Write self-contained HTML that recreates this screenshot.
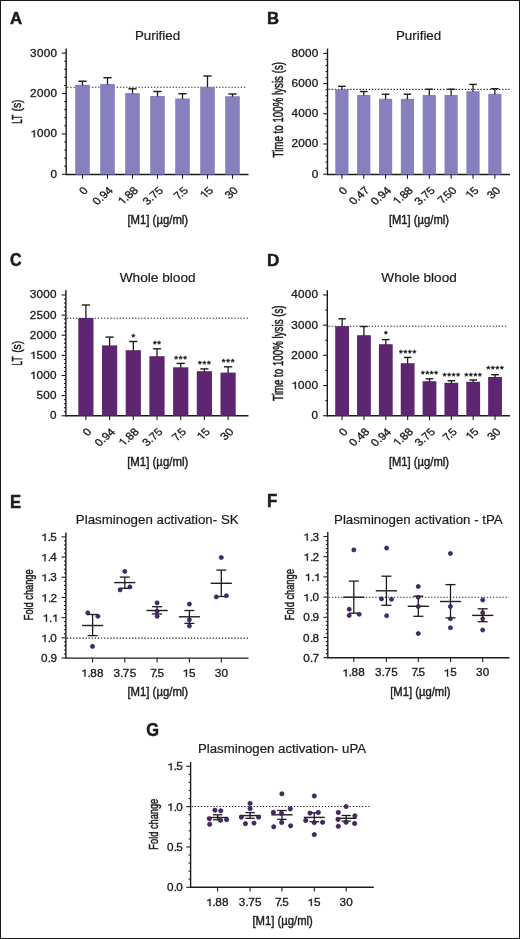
<!DOCTYPE html>
<html><head><meta charset="utf-8"><title>Figure</title>
<style>html,body{margin:0;padding:0;background:#fff;width:520px;height:939px;overflow:hidden}text{font-family:'Liberation Sans', sans-serif}</style>
</head><body>
<svg width="520" height="939" viewBox="0 0 520 939" style="position:absolute;left:0;top:0;will-change:transform;font-family:'Liberation Sans', sans-serif">
<rect x="0" y="0" width="520" height="939" fill="#fff"/>
<text transform="translate(9.88,23.90) scale(0.995,1)" style="font-size:16.96px;font-weight:bold;" fill="#1c1c1c" stroke="#1c1c1c" stroke-width="0.5">A</text>
<text transform="translate(266.91,23.70) scale(0.970,1)" style="font-size:17.25px;font-weight:bold;" fill="#1c1c1c" stroke="#1c1c1c" stroke-width="0.5">B</text>
<text transform="translate(10.06,265.72) scale(0.911,1)" style="font-size:17.61px;font-weight:bold;" fill="#1c1c1c" stroke="#1c1c1c" stroke-width="0.5">C</text>
<text transform="translate(266.89,265.60) scale(1.007,1)" style="font-size:16.96px;font-weight:bold;" fill="#1c1c1c" stroke="#1c1c1c" stroke-width="0.5">D</text>
<text transform="translate(10.02,507.60) scale(0.933,1)" style="font-size:17.83px;font-weight:bold;" fill="#1c1c1c" stroke="#1c1c1c" stroke-width="0.5">E</text>
<text transform="translate(266.90,507.40) scale(0.962,1)" style="font-size:17.54px;font-weight:bold;" fill="#1c1c1c" stroke="#1c1c1c" stroke-width="0.5">F</text>
<text transform="translate(146.14,736.42) scale(0.934,1)" style="font-size:17.61px;font-weight:bold;" fill="#1c1c1c" stroke="#1c1c1c" stroke-width="0.5">G</text>
<text transform="translate(134.93,40.20) scale(1.046,1)" style="font-size:12.75px" fill="#1c1c1c" stroke="#1c1c1c" stroke-width="0.2">Purified</text>
<text transform="translate(395.93,40.20) scale(1.049,1)" style="font-size:12.75px" fill="#1c1c1c" stroke="#1c1c1c" stroke-width="0.2">Purified</text>
<text transform="translate(119.73,281.90) scale(1.014,1)" style="font-size:13.48px" fill="#1c1c1c" stroke="#1c1c1c" stroke-width="0.2">Whole blood</text>
<text transform="translate(381.33,281.90) scale(1.008,1)" style="font-size:13.48px" fill="#1c1c1c" stroke="#1c1c1c" stroke-width="0.2">Whole blood</text>
<text transform="translate(75.83,523.70) scale(1.010,1)" style="font-size:13.19px" fill="#1c1c1c" stroke="#1c1c1c" stroke-width="0.2">Plasminogen activation- SK</text>
<text transform="translate(334.04,523.70) scale(1.007,1)" style="font-size:13.19px" fill="#1c1c1c" stroke="#1c1c1c" stroke-width="0.2">Plasminogen activation - tPA</text>
<text transform="translate(197.94,753.20) scale(1.063,1)" style="font-size:12.46px" fill="#1c1c1c" stroke="#1c1c1c" stroke-width="0.2">Plasminogen activation- uPA</text>
<text transform="translate(127.40,224.48) scale(0.878,1)" style="font-size:12.94px;" fill="#1c1c1c" stroke="#1c1c1c" stroke-width="0.45">[M1] (µg/ml)</text>
<text transform="translate(388.91,224.48) scale(0.867,1)" style="font-size:12.94px;" fill="#1c1c1c" stroke="#1c1c1c" stroke-width="0.45">[M1] (µg/ml)</text>
<text transform="translate(127.20,466.48) scale(0.881,1)" style="font-size:12.94px;" fill="#1c1c1c" stroke="#1c1c1c" stroke-width="0.45">[M1] (µg/ml)</text>
<text transform="translate(388.91,466.48) scale(0.867,1)" style="font-size:12.94px;" fill="#1c1c1c" stroke="#1c1c1c" stroke-width="0.45">[M1] (µg/ml)</text>
<text transform="translate(127.40,696.08) scale(0.878,1)" style="font-size:12.94px;" fill="#1c1c1c" stroke="#1c1c1c" stroke-width="0.45">[M1] (µg/ml)</text>
<text transform="translate(390.21,696.08) scale(0.870,1)" style="font-size:12.94px;" fill="#1c1c1c" stroke="#1c1c1c" stroke-width="0.45">[M1] (µg/ml)</text>
<text transform="translate(252.41,924.58) scale(0.873,1)" style="font-size:12.94px;" fill="#1c1c1c" stroke="#1c1c1c" stroke-width="0.45">[M1] (µg/ml)</text>
<line x1="66.20" y1="48.50" x2="66.20" y2="175.20" stroke="#1c1c1c" stroke-width="1.4" />
<line x1="61.90" y1="174.30" x2="66.20" y2="174.30" stroke="#1c1c1c" stroke-width="1.1" />
<line x1="64.20" y1="166.22" x2="66.20" y2="166.22" stroke="#1c1c1c" stroke-width="1.1" />
<line x1="64.20" y1="158.14" x2="66.20" y2="158.14" stroke="#1c1c1c" stroke-width="1.1" />
<line x1="64.20" y1="150.06" x2="66.20" y2="150.06" stroke="#1c1c1c" stroke-width="1.1" />
<line x1="64.20" y1="141.98" x2="66.20" y2="141.98" stroke="#1c1c1c" stroke-width="1.1" />
<line x1="61.90" y1="133.90" x2="66.20" y2="133.90" stroke="#1c1c1c" stroke-width="1.1" />
<line x1="64.20" y1="125.82" x2="66.20" y2="125.82" stroke="#1c1c1c" stroke-width="1.1" />
<line x1="64.20" y1="117.74" x2="66.20" y2="117.74" stroke="#1c1c1c" stroke-width="1.1" />
<line x1="64.20" y1="109.66" x2="66.20" y2="109.66" stroke="#1c1c1c" stroke-width="1.1" />
<line x1="64.20" y1="101.58" x2="66.20" y2="101.58" stroke="#1c1c1c" stroke-width="1.1" />
<line x1="61.90" y1="93.50" x2="66.20" y2="93.50" stroke="#1c1c1c" stroke-width="1.1" />
<line x1="64.20" y1="85.42" x2="66.20" y2="85.42" stroke="#1c1c1c" stroke-width="1.1" />
<line x1="64.20" y1="77.34" x2="66.20" y2="77.34" stroke="#1c1c1c" stroke-width="1.1" />
<line x1="64.20" y1="69.26" x2="66.20" y2="69.26" stroke="#1c1c1c" stroke-width="1.1" />
<line x1="64.20" y1="61.18" x2="66.20" y2="61.18" stroke="#1c1c1c" stroke-width="1.1" />
<line x1="61.90" y1="53.10" x2="66.20" y2="53.10" stroke="#1c1c1c" stroke-width="1.1" />
<g transform="translate(56.60,177.75) scale(1.150,1)" fill="#1c1c1c" stroke="#1c1c1c" stroke-width="0.3"><text x="-5.30" y="0" style="font-size:10.20px">0</text></g>
<g transform="translate(56.60,137.35) scale(1.150,1)" fill="#1c1c1c" stroke="#1c1c1c" stroke-width="0.3"><text x="-17.13 -11.22 -5.30" y="0" style="font-size:10.20px">000</text><path d="M -19.88 0.00 L -18.96 0.00 L -18.96 -7.17 L -19.63 -7.17 Q -19.98 -6.12 -21.82 -5.86 L -21.82 -5.10 Q -20.39 -5.20 -19.88 -5.76 Z"/></g>
<g transform="translate(56.60,96.95) scale(1.150,1)" fill="#1c1c1c" stroke="#1c1c1c" stroke-width="0.3"><text x="-23.04 -17.13 -11.22 -5.30" y="0" style="font-size:10.20px">2000</text></g>
<g transform="translate(56.60,56.55) scale(1.150,1)" fill="#1c1c1c" stroke="#1c1c1c" stroke-width="0.3"><text x="-23.04 -17.13 -11.22 -5.30" y="0" style="font-size:10.20px">3000</text></g>
<line x1="66.20" y1="174.50" x2="248.50" y2="174.50" stroke="#1c1c1c" stroke-width="1.4" />
<line x1="67.20" y1="87.30" x2="246.50" y2="87.30" stroke="#222" stroke-width="1.1" stroke-dasharray="1.3 1.8"/>
<rect x="75.20" y="84.80" width="14.60" height="89.70" fill="#8680bf"/>
<line x1="82.50" y1="81.20" x2="82.50" y2="85.30" stroke="#1c1c1c" stroke-width="1.3" />
<line x1="78.40" y1="81.20" x2="86.60" y2="81.20" stroke="#1c1c1c" stroke-width="1.4" />
<rect x="100.20" y="84.00" width="14.60" height="90.50" fill="#8680bf"/>
<line x1="107.50" y1="77.70" x2="107.50" y2="84.50" stroke="#1c1c1c" stroke-width="1.3" />
<line x1="103.40" y1="77.70" x2="111.60" y2="77.70" stroke="#1c1c1c" stroke-width="1.4" />
<rect x="125.20" y="93.10" width="14.60" height="81.40" fill="#8680bf"/>
<line x1="132.50" y1="88.80" x2="132.50" y2="93.60" stroke="#1c1c1c" stroke-width="1.3" />
<line x1="128.40" y1="88.80" x2="136.60" y2="88.80" stroke="#1c1c1c" stroke-width="1.4" />
<rect x="150.20" y="96.00" width="14.60" height="78.50" fill="#8680bf"/>
<line x1="157.50" y1="91.50" x2="157.50" y2="96.50" stroke="#1c1c1c" stroke-width="1.3" />
<line x1="153.40" y1="91.50" x2="161.60" y2="91.50" stroke="#1c1c1c" stroke-width="1.4" />
<rect x="175.20" y="98.50" width="14.60" height="76.00" fill="#8680bf"/>
<line x1="182.50" y1="93.70" x2="182.50" y2="99.00" stroke="#1c1c1c" stroke-width="1.3" />
<line x1="178.40" y1="93.70" x2="186.60" y2="93.70" stroke="#1c1c1c" stroke-width="1.4" />
<rect x="200.20" y="86.90" width="14.60" height="87.60" fill="#8680bf"/>
<line x1="207.50" y1="76.00" x2="207.50" y2="87.40" stroke="#1c1c1c" stroke-width="1.3" />
<line x1="203.40" y1="76.00" x2="211.60" y2="76.00" stroke="#1c1c1c" stroke-width="1.4" />
<rect x="225.20" y="96.20" width="14.60" height="78.30" fill="#8680bf"/>
<line x1="232.50" y1="94.00" x2="232.50" y2="96.70" stroke="#1c1c1c" stroke-width="1.3" />
<line x1="228.40" y1="94.00" x2="236.60" y2="94.00" stroke="#1c1c1c" stroke-width="1.4" />
<line x1="82.50" y1="174.50" x2="82.50" y2="178.80" stroke="#1c1c1c" stroke-width="1.1" />
<line x1="107.50" y1="174.50" x2="107.50" y2="178.80" stroke="#1c1c1c" stroke-width="1.1" />
<line x1="132.50" y1="174.50" x2="132.50" y2="178.80" stroke="#1c1c1c" stroke-width="1.1" />
<line x1="157.50" y1="174.50" x2="157.50" y2="178.80" stroke="#1c1c1c" stroke-width="1.1" />
<line x1="182.50" y1="174.50" x2="182.50" y2="178.80" stroke="#1c1c1c" stroke-width="1.1" />
<line x1="207.50" y1="174.50" x2="207.50" y2="178.80" stroke="#1c1c1c" stroke-width="1.1" />
<line x1="232.50" y1="174.50" x2="232.50" y2="178.80" stroke="#1c1c1c" stroke-width="1.1" />
<g transform="translate(88.50,191.40) scale(1.150,1) rotate(-45)" fill="#1c1c1c" stroke="#1c1c1c" stroke-width="0.3"><text x="-5.41" y="0" style="font-size:10.40px">0</text></g>
<g transform="translate(113.50,191.40) scale(1.150,1) rotate(-45)" fill="#1c1c1c" stroke="#1c1c1c" stroke-width="0.3"><text x="-19.92 -14.13 -11.24 -5.46" y="0" style="font-size:10.40px">0.94</text></g>
<g transform="translate(138.50,191.40) scale(1.150,1) rotate(-45)" fill="#1c1c1c" stroke="#1c1c1c" stroke-width="0.3"><text x="-14.03 -11.14 -5.36" y="0" style="font-size:10.40px">.88</text><path d="M -16.59 0.00 L -15.65 0.00 L -15.65 -7.31 L -16.33 -7.31 Q -16.69 -6.24 -18.57 -5.98 L -18.57 -5.20 Q -17.11 -5.30 -16.59 -5.88 Z"/></g>
<g transform="translate(163.50,191.40) scale(1.150,1) rotate(-45)" fill="#1c1c1c" stroke="#1c1c1c" stroke-width="0.3"><text x="-19.81 -14.03 -11.14 -5.36" y="0" style="font-size:10.40px">3.75</text></g>
<g transform="translate(188.50,191.40) scale(1.150,1) rotate(-45)" fill="#1c1c1c" stroke="#1c1c1c" stroke-width="0.3"><text x="-12.23 -8.25 -5.36" y="0" style="font-size:10.40px">7.5</text></g>
<g transform="translate(213.50,191.40) scale(1.150,1) rotate(-45)" fill="#1c1c1c" stroke="#1c1c1c" stroke-width="0.3"><text x="-5.36" y="0" style="font-size:10.40px">5</text><path d="M -7.92 0.00 L -6.98 0.00 L -6.98 -7.31 L -7.66 -7.31 Q -8.02 -6.24 -9.89 -5.98 L -9.89 -5.20 Q -8.44 -5.30 -7.92 -5.88 Z"/></g>
<g transform="translate(238.50,191.40) scale(1.150,1) rotate(-45)" fill="#1c1c1c" stroke="#1c1c1c" stroke-width="0.3"><text x="-11.19 -5.41" y="0" style="font-size:10.40px">30</text></g>
<text transform="translate(21.80,123.75) rotate(-90) scale(0.576,1)" style="font-size:14.20px" fill="#1c1c1c" stroke="#1c1c1c" stroke-width="0.5">LT</text>
<text transform="translate(21.29,111.52) rotate(-90) scale(0.773,1)" style="font-size:13.37px" fill="#1c1c1c" stroke="#1c1c1c" stroke-width="0.5">(s)</text>
<line x1="327.50" y1="48.50" x2="327.50" y2="175.20" stroke="#1c1c1c" stroke-width="1.4" />
<line x1="323.20" y1="174.20" x2="327.50" y2="174.20" stroke="#1c1c1c" stroke-width="1.1" />
<line x1="325.50" y1="168.16" x2="327.50" y2="168.16" stroke="#1c1c1c" stroke-width="1.1" />
<line x1="325.50" y1="162.12" x2="327.50" y2="162.12" stroke="#1c1c1c" stroke-width="1.1" />
<line x1="325.50" y1="156.08" x2="327.50" y2="156.08" stroke="#1c1c1c" stroke-width="1.1" />
<line x1="325.50" y1="150.04" x2="327.50" y2="150.04" stroke="#1c1c1c" stroke-width="1.1" />
<line x1="323.20" y1="144.00" x2="327.50" y2="144.00" stroke="#1c1c1c" stroke-width="1.1" />
<line x1="325.50" y1="137.96" x2="327.50" y2="137.96" stroke="#1c1c1c" stroke-width="1.1" />
<line x1="325.50" y1="131.92" x2="327.50" y2="131.92" stroke="#1c1c1c" stroke-width="1.1" />
<line x1="325.50" y1="125.88" x2="327.50" y2="125.88" stroke="#1c1c1c" stroke-width="1.1" />
<line x1="325.50" y1="119.84" x2="327.50" y2="119.84" stroke="#1c1c1c" stroke-width="1.1" />
<line x1="323.20" y1="113.80" x2="327.50" y2="113.80" stroke="#1c1c1c" stroke-width="1.1" />
<line x1="325.50" y1="107.76" x2="327.50" y2="107.76" stroke="#1c1c1c" stroke-width="1.1" />
<line x1="325.50" y1="101.72" x2="327.50" y2="101.72" stroke="#1c1c1c" stroke-width="1.1" />
<line x1="325.50" y1="95.68" x2="327.50" y2="95.68" stroke="#1c1c1c" stroke-width="1.1" />
<line x1="325.50" y1="89.64" x2="327.50" y2="89.64" stroke="#1c1c1c" stroke-width="1.1" />
<line x1="323.20" y1="83.60" x2="327.50" y2="83.60" stroke="#1c1c1c" stroke-width="1.1" />
<line x1="325.50" y1="77.56" x2="327.50" y2="77.56" stroke="#1c1c1c" stroke-width="1.1" />
<line x1="325.50" y1="71.52" x2="327.50" y2="71.52" stroke="#1c1c1c" stroke-width="1.1" />
<line x1="325.50" y1="65.48" x2="327.50" y2="65.48" stroke="#1c1c1c" stroke-width="1.1" />
<line x1="325.50" y1="59.44" x2="327.50" y2="59.44" stroke="#1c1c1c" stroke-width="1.1" />
<line x1="323.20" y1="53.40" x2="327.50" y2="53.40" stroke="#1c1c1c" stroke-width="1.1" />
<g transform="translate(317.90,177.65) scale(1.150,1)" fill="#1c1c1c" stroke="#1c1c1c" stroke-width="0.3"><text x="-5.30" y="0" style="font-size:10.20px">0</text></g>
<g transform="translate(317.90,147.45) scale(1.150,1)" fill="#1c1c1c" stroke="#1c1c1c" stroke-width="0.3"><text x="-23.04 -17.13 -11.22 -5.30" y="0" style="font-size:10.20px">2000</text></g>
<g transform="translate(317.90,117.25) scale(1.150,1)" fill="#1c1c1c" stroke="#1c1c1c" stroke-width="0.3"><text x="-23.04 -17.13 -11.22 -5.30" y="0" style="font-size:10.20px">4000</text></g>
<g transform="translate(317.90,87.05) scale(1.150,1)" fill="#1c1c1c" stroke="#1c1c1c" stroke-width="0.3"><text x="-23.04 -17.13 -11.22 -5.30" y="0" style="font-size:10.20px">6000</text></g>
<g transform="translate(317.90,56.85) scale(1.150,1)" fill="#1c1c1c" stroke="#1c1c1c" stroke-width="0.3"><text x="-23.04 -17.13 -11.22 -5.30" y="0" style="font-size:10.20px">8000</text></g>
<line x1="327.50" y1="174.50" x2="510.00" y2="174.50" stroke="#1c1c1c" stroke-width="1.4" />
<line x1="328.50" y1="89.40" x2="510.00" y2="89.40" stroke="#222" stroke-width="1.1" stroke-dasharray="1.3 1.8"/>
<rect x="335.30" y="89.20" width="13.20" height="85.30" fill="#8680bf"/>
<line x1="341.90" y1="86.30" x2="341.90" y2="89.70" stroke="#1c1c1c" stroke-width="1.3" />
<line x1="338.10" y1="86.30" x2="345.70" y2="86.30" stroke="#1c1c1c" stroke-width="1.4" />
<rect x="357.15" y="95.00" width="13.20" height="79.50" fill="#8680bf"/>
<line x1="363.75" y1="91.50" x2="363.75" y2="95.50" stroke="#1c1c1c" stroke-width="1.3" />
<line x1="359.95" y1="91.50" x2="367.55" y2="91.50" stroke="#1c1c1c" stroke-width="1.4" />
<rect x="379.00" y="98.80" width="13.20" height="75.70" fill="#8680bf"/>
<line x1="385.60" y1="94.20" x2="385.60" y2="99.30" stroke="#1c1c1c" stroke-width="1.3" />
<line x1="381.80" y1="94.20" x2="389.40" y2="94.20" stroke="#1c1c1c" stroke-width="1.4" />
<rect x="400.85" y="98.80" width="13.20" height="75.70" fill="#8680bf"/>
<line x1="407.45" y1="94.20" x2="407.45" y2="99.30" stroke="#1c1c1c" stroke-width="1.3" />
<line x1="403.65" y1="94.20" x2="411.25" y2="94.20" stroke="#1c1c1c" stroke-width="1.4" />
<rect x="422.70" y="95.00" width="13.20" height="79.50" fill="#8680bf"/>
<line x1="429.30" y1="89.20" x2="429.30" y2="95.50" stroke="#1c1c1c" stroke-width="1.3" />
<line x1="425.50" y1="89.20" x2="433.10" y2="89.20" stroke="#1c1c1c" stroke-width="1.4" />
<rect x="444.55" y="95.00" width="13.20" height="79.50" fill="#8680bf"/>
<line x1="451.15" y1="89.20" x2="451.15" y2="95.50" stroke="#1c1c1c" stroke-width="1.3" />
<line x1="447.35" y1="89.20" x2="454.95" y2="89.20" stroke="#1c1c1c" stroke-width="1.4" />
<rect x="466.40" y="91.20" width="13.20" height="83.30" fill="#8680bf"/>
<line x1="473.00" y1="84.40" x2="473.00" y2="91.70" stroke="#1c1c1c" stroke-width="1.3" />
<line x1="469.20" y1="84.40" x2="476.80" y2="84.40" stroke="#1c1c1c" stroke-width="1.4" />
<rect x="488.25" y="94.00" width="13.20" height="80.50" fill="#8680bf"/>
<line x1="494.85" y1="88.70" x2="494.85" y2="94.50" stroke="#1c1c1c" stroke-width="1.3" />
<line x1="491.05" y1="88.70" x2="498.65" y2="88.70" stroke="#1c1c1c" stroke-width="1.4" />
<line x1="341.90" y1="174.50" x2="341.90" y2="178.80" stroke="#1c1c1c" stroke-width="1.1" />
<line x1="363.75" y1="174.50" x2="363.75" y2="178.80" stroke="#1c1c1c" stroke-width="1.1" />
<line x1="385.60" y1="174.50" x2="385.60" y2="178.80" stroke="#1c1c1c" stroke-width="1.1" />
<line x1="407.45" y1="174.50" x2="407.45" y2="178.80" stroke="#1c1c1c" stroke-width="1.1" />
<line x1="429.30" y1="174.50" x2="429.30" y2="178.80" stroke="#1c1c1c" stroke-width="1.1" />
<line x1="451.15" y1="174.50" x2="451.15" y2="178.80" stroke="#1c1c1c" stroke-width="1.1" />
<line x1="473.00" y1="174.50" x2="473.00" y2="178.80" stroke="#1c1c1c" stroke-width="1.1" />
<line x1="494.85" y1="174.50" x2="494.85" y2="178.80" stroke="#1c1c1c" stroke-width="1.1" />
<g transform="translate(347.90,191.40) scale(1.150,1) rotate(-45)" fill="#1c1c1c" stroke="#1c1c1c" stroke-width="0.3"><text x="-5.41" y="0" style="font-size:10.40px">0</text></g>
<g transform="translate(369.75,191.40) scale(1.150,1) rotate(-45)" fill="#1c1c1c" stroke="#1c1c1c" stroke-width="0.3"><text x="-19.71 -13.93 -11.04 -5.25" y="0" style="font-size:10.40px">0.47</text></g>
<g transform="translate(391.60,191.40) scale(1.150,1) rotate(-45)" fill="#1c1c1c" stroke="#1c1c1c" stroke-width="0.3"><text x="-19.92 -14.13 -11.24 -5.46" y="0" style="font-size:10.40px">0.94</text></g>
<g transform="translate(413.45,191.40) scale(1.150,1) rotate(-45)" fill="#1c1c1c" stroke="#1c1c1c" stroke-width="0.3"><text x="-14.03 -11.14 -5.36" y="0" style="font-size:10.40px">.88</text><path d="M -16.59 0.00 L -15.65 0.00 L -15.65 -7.31 L -16.33 -7.31 Q -16.69 -6.24 -18.57 -5.98 L -18.57 -5.20 Q -17.11 -5.30 -16.59 -5.88 Z"/></g>
<g transform="translate(435.30,191.40) scale(1.150,1) rotate(-45)" fill="#1c1c1c" stroke="#1c1c1c" stroke-width="0.3"><text x="-19.81 -14.03 -11.14 -5.36" y="0" style="font-size:10.40px">3.75</text></g>
<g transform="translate(457.15,191.40) scale(1.150,1) rotate(-45)" fill="#1c1c1c" stroke="#1c1c1c" stroke-width="0.3"><text x="-18.07 -14.08 -11.19 -5.41" y="0" style="font-size:10.40px">7.50</text></g>
<g transform="translate(479.00,191.40) scale(1.150,1) rotate(-45)" fill="#1c1c1c" stroke="#1c1c1c" stroke-width="0.3"><text x="-5.36" y="0" style="font-size:10.40px">5</text><path d="M -7.92 0.00 L -6.98 0.00 L -6.98 -7.31 L -7.66 -7.31 Q -8.02 -6.24 -9.89 -5.98 L -9.89 -5.20 Q -8.44 -5.30 -7.92 -5.88 Z"/></g>
<g transform="translate(500.85,191.40) scale(1.150,1) rotate(-45)" fill="#1c1c1c" stroke="#1c1c1c" stroke-width="0.3"><text x="-11.19 -5.41" y="0" style="font-size:10.40px">30</text></g>
<text transform="translate(283.00,157.39) rotate(-90) scale(0.706,1)" style="font-size:13.80px" fill="#1c1c1c" stroke="#1c1c1c" stroke-width="0.5">Time to 100% lysis (s)</text>
<line x1="65.90" y1="290.00" x2="65.90" y2="416.50" stroke="#1c1c1c" stroke-width="1.4" />
<line x1="61.60" y1="415.75" x2="65.90" y2="415.75" stroke="#1c1c1c" stroke-width="1.1" />
<line x1="63.90" y1="411.73" x2="65.90" y2="411.73" stroke="#1c1c1c" stroke-width="1.1" />
<line x1="63.90" y1="407.70" x2="65.90" y2="407.70" stroke="#1c1c1c" stroke-width="1.1" />
<line x1="63.90" y1="403.68" x2="65.90" y2="403.68" stroke="#1c1c1c" stroke-width="1.1" />
<line x1="63.90" y1="399.65" x2="65.90" y2="399.65" stroke="#1c1c1c" stroke-width="1.1" />
<line x1="61.60" y1="395.62" x2="65.90" y2="395.62" stroke="#1c1c1c" stroke-width="1.1" />
<line x1="63.90" y1="391.60" x2="65.90" y2="391.60" stroke="#1c1c1c" stroke-width="1.1" />
<line x1="63.90" y1="387.57" x2="65.90" y2="387.57" stroke="#1c1c1c" stroke-width="1.1" />
<line x1="63.90" y1="383.55" x2="65.90" y2="383.55" stroke="#1c1c1c" stroke-width="1.1" />
<line x1="63.90" y1="379.52" x2="65.90" y2="379.52" stroke="#1c1c1c" stroke-width="1.1" />
<line x1="61.60" y1="375.50" x2="65.90" y2="375.50" stroke="#1c1c1c" stroke-width="1.1" />
<line x1="63.90" y1="371.48" x2="65.90" y2="371.48" stroke="#1c1c1c" stroke-width="1.1" />
<line x1="63.90" y1="367.45" x2="65.90" y2="367.45" stroke="#1c1c1c" stroke-width="1.1" />
<line x1="63.90" y1="363.43" x2="65.90" y2="363.43" stroke="#1c1c1c" stroke-width="1.1" />
<line x1="63.90" y1="359.40" x2="65.90" y2="359.40" stroke="#1c1c1c" stroke-width="1.1" />
<line x1="61.60" y1="355.38" x2="65.90" y2="355.38" stroke="#1c1c1c" stroke-width="1.1" />
<line x1="63.90" y1="351.35" x2="65.90" y2="351.35" stroke="#1c1c1c" stroke-width="1.1" />
<line x1="63.90" y1="347.32" x2="65.90" y2="347.32" stroke="#1c1c1c" stroke-width="1.1" />
<line x1="63.90" y1="343.30" x2="65.90" y2="343.30" stroke="#1c1c1c" stroke-width="1.1" />
<line x1="63.90" y1="339.27" x2="65.90" y2="339.27" stroke="#1c1c1c" stroke-width="1.1" />
<line x1="61.60" y1="335.25" x2="65.90" y2="335.25" stroke="#1c1c1c" stroke-width="1.1" />
<line x1="63.90" y1="331.23" x2="65.90" y2="331.23" stroke="#1c1c1c" stroke-width="1.1" />
<line x1="63.90" y1="327.20" x2="65.90" y2="327.20" stroke="#1c1c1c" stroke-width="1.1" />
<line x1="63.90" y1="323.18" x2="65.90" y2="323.18" stroke="#1c1c1c" stroke-width="1.1" />
<line x1="63.90" y1="319.15" x2="65.90" y2="319.15" stroke="#1c1c1c" stroke-width="1.1" />
<line x1="61.60" y1="315.12" x2="65.90" y2="315.12" stroke="#1c1c1c" stroke-width="1.1" />
<line x1="63.90" y1="311.10" x2="65.90" y2="311.10" stroke="#1c1c1c" stroke-width="1.1" />
<line x1="63.90" y1="307.07" x2="65.90" y2="307.07" stroke="#1c1c1c" stroke-width="1.1" />
<line x1="63.90" y1="303.05" x2="65.90" y2="303.05" stroke="#1c1c1c" stroke-width="1.1" />
<line x1="63.90" y1="299.02" x2="65.90" y2="299.02" stroke="#1c1c1c" stroke-width="1.1" />
<line x1="61.60" y1="295.00" x2="65.90" y2="295.00" stroke="#1c1c1c" stroke-width="1.1" />
<g transform="translate(56.20,419.20) scale(1.150,1)" fill="#1c1c1c" stroke="#1c1c1c" stroke-width="0.3"><text x="-5.30" y="0" style="font-size:10.20px">0</text></g>
<g transform="translate(56.20,399.07) scale(1.150,1)" fill="#1c1c1c" stroke="#1c1c1c" stroke-width="0.3"><text x="-17.13 -11.22 -5.30" y="0" style="font-size:10.20px">500</text></g>
<g transform="translate(56.20,378.95) scale(1.150,1)" fill="#1c1c1c" stroke="#1c1c1c" stroke-width="0.3"><text x="-17.13 -11.22 -5.30" y="0" style="font-size:10.20px">000</text><path d="M -19.88 0.00 L -18.96 0.00 L -18.96 -7.17 L -19.63 -7.17 Q -19.98 -6.12 -21.82 -5.86 L -21.82 -5.10 Q -20.39 -5.20 -19.88 -5.76 Z"/></g>
<g transform="translate(56.20,358.82) scale(1.150,1)" fill="#1c1c1c" stroke="#1c1c1c" stroke-width="0.3"><text x="-17.13 -11.22 -5.30" y="0" style="font-size:10.20px">500</text><path d="M -19.88 0.00 L -18.96 0.00 L -18.96 -7.17 L -19.63 -7.17 Q -19.98 -6.12 -21.82 -5.86 L -21.82 -5.10 Q -20.39 -5.20 -19.88 -5.76 Z"/></g>
<g transform="translate(56.20,338.70) scale(1.150,1)" fill="#1c1c1c" stroke="#1c1c1c" stroke-width="0.3"><text x="-23.04 -17.13 -11.22 -5.30" y="0" style="font-size:10.20px">2000</text></g>
<g transform="translate(56.20,318.57) scale(1.150,1)" fill="#1c1c1c" stroke="#1c1c1c" stroke-width="0.3"><text x="-23.04 -17.13 -11.22 -5.30" y="0" style="font-size:10.20px">2500</text></g>
<g transform="translate(56.20,298.45) scale(1.150,1)" fill="#1c1c1c" stroke="#1c1c1c" stroke-width="0.3"><text x="-23.04 -17.13 -11.22 -5.30" y="0" style="font-size:10.20px">3000</text></g>
<line x1="65.90" y1="415.80" x2="248.50" y2="415.80" stroke="#1c1c1c" stroke-width="1.4" />
<line x1="66.90" y1="318.30" x2="248.00" y2="318.30" stroke="#222" stroke-width="1.1" stroke-dasharray="1.3 1.8"/>
<rect x="78.30" y="318.00" width="15.20" height="97.80" fill="#5e2570"/>
<line x1="85.90" y1="305.00" x2="85.90" y2="318.50" stroke="#1c1c1c" stroke-width="1.3" />
<line x1="81.80" y1="305.00" x2="90.00" y2="305.00" stroke="#1c1c1c" stroke-width="1.4" />
<rect x="102.00" y="345.40" width="15.20" height="70.40" fill="#5e2570"/>
<line x1="109.60" y1="337.10" x2="109.60" y2="345.90" stroke="#1c1c1c" stroke-width="1.3" />
<line x1="105.50" y1="337.10" x2="113.70" y2="337.10" stroke="#1c1c1c" stroke-width="1.4" />
<rect x="125.70" y="350.20" width="15.20" height="65.60" fill="#5e2570"/>
<line x1="133.30" y1="341.50" x2="133.30" y2="350.70" stroke="#1c1c1c" stroke-width="1.3" />
<line x1="129.20" y1="341.50" x2="137.40" y2="341.50" stroke="#1c1c1c" stroke-width="1.4" />
<rect x="149.40" y="356.20" width="15.20" height="59.60" fill="#5e2570"/>
<line x1="157.00" y1="348.80" x2="157.00" y2="356.70" stroke="#1c1c1c" stroke-width="1.3" />
<line x1="152.90" y1="348.80" x2="161.10" y2="348.80" stroke="#1c1c1c" stroke-width="1.4" />
<rect x="173.10" y="367.30" width="15.20" height="48.50" fill="#5e2570"/>
<line x1="180.70" y1="363.40" x2="180.70" y2="367.80" stroke="#1c1c1c" stroke-width="1.3" />
<line x1="176.60" y1="363.40" x2="184.80" y2="363.40" stroke="#1c1c1c" stroke-width="1.4" />
<rect x="196.80" y="371.20" width="15.20" height="44.60" fill="#5e2570"/>
<line x1="204.40" y1="368.90" x2="204.40" y2="371.70" stroke="#1c1c1c" stroke-width="1.3" />
<line x1="200.30" y1="368.90" x2="208.50" y2="368.90" stroke="#1c1c1c" stroke-width="1.4" />
<rect x="220.50" y="372.60" width="15.20" height="43.20" fill="#5e2570"/>
<line x1="228.10" y1="366.80" x2="228.10" y2="373.10" stroke="#1c1c1c" stroke-width="1.3" />
<line x1="224.00" y1="366.80" x2="232.20" y2="366.80" stroke="#1c1c1c" stroke-width="1.4" />
<line x1="85.90" y1="415.80" x2="85.90" y2="420.10" stroke="#1c1c1c" stroke-width="1.1" />
<line x1="109.60" y1="415.80" x2="109.60" y2="420.10" stroke="#1c1c1c" stroke-width="1.1" />
<line x1="133.30" y1="415.80" x2="133.30" y2="420.10" stroke="#1c1c1c" stroke-width="1.1" />
<line x1="157.00" y1="415.80" x2="157.00" y2="420.10" stroke="#1c1c1c" stroke-width="1.1" />
<line x1="180.70" y1="415.80" x2="180.70" y2="420.10" stroke="#1c1c1c" stroke-width="1.1" />
<line x1="204.40" y1="415.80" x2="204.40" y2="420.10" stroke="#1c1c1c" stroke-width="1.1" />
<line x1="228.10" y1="415.80" x2="228.10" y2="420.10" stroke="#1c1c1c" stroke-width="1.1" />
<g transform="translate(91.90,432.80) scale(1.150,1) rotate(-45)" fill="#1c1c1c" stroke="#1c1c1c" stroke-width="0.3"><text x="-5.41" y="0" style="font-size:10.40px">0</text></g>
<g transform="translate(115.60,432.80) scale(1.150,1) rotate(-45)" fill="#1c1c1c" stroke="#1c1c1c" stroke-width="0.3"><text x="-19.92 -14.13 -11.24 -5.46" y="0" style="font-size:10.40px">0.94</text></g>
<g transform="translate(139.30,432.80) scale(1.150,1) rotate(-45)" fill="#1c1c1c" stroke="#1c1c1c" stroke-width="0.3"><text x="-14.03 -11.14 -5.36" y="0" style="font-size:10.40px">.88</text><path d="M -16.59 0.00 L -15.65 0.00 L -15.65 -7.31 L -16.33 -7.31 Q -16.69 -6.24 -18.57 -5.98 L -18.57 -5.20 Q -17.11 -5.30 -16.59 -5.88 Z"/></g>
<g transform="translate(163.00,432.80) scale(1.150,1) rotate(-45)" fill="#1c1c1c" stroke="#1c1c1c" stroke-width="0.3"><text x="-19.81 -14.03 -11.14 -5.36" y="0" style="font-size:10.40px">3.75</text></g>
<g transform="translate(186.70,432.80) scale(1.150,1) rotate(-45)" fill="#1c1c1c" stroke="#1c1c1c" stroke-width="0.3"><text x="-12.23 -8.25 -5.36" y="0" style="font-size:10.40px">7.5</text></g>
<g transform="translate(210.40,432.80) scale(1.150,1) rotate(-45)" fill="#1c1c1c" stroke="#1c1c1c" stroke-width="0.3"><text x="-5.36" y="0" style="font-size:10.40px">5</text><path d="M -7.92 0.00 L -6.98 0.00 L -6.98 -7.31 L -7.66 -7.31 Q -8.02 -6.24 -9.89 -5.98 L -9.89 -5.20 Q -8.44 -5.30 -7.92 -5.88 Z"/></g>
<g transform="translate(234.10,432.80) scale(1.150,1) rotate(-45)" fill="#1c1c1c" stroke="#1c1c1c" stroke-width="0.3"><text x="-11.19 -5.41" y="0" style="font-size:10.40px">30</text></g>
<text x="133.67" y="339.54" text-anchor="middle" style="font-size:9.6px;letter-spacing:0.75px" fill="#1c1c1c" stroke="#1c1c1c" stroke-width="0.45">*</text>
<text x="157.37" y="346.54" text-anchor="middle" style="font-size:9.6px;letter-spacing:0.75px" fill="#1c1c1c" stroke="#1c1c1c" stroke-width="0.45">**</text>
<text x="181.07" y="361.54" text-anchor="middle" style="font-size:9.6px;letter-spacing:0.75px" fill="#1c1c1c" stroke="#1c1c1c" stroke-width="0.45">***</text>
<text x="204.78" y="366.84" text-anchor="middle" style="font-size:9.6px;letter-spacing:0.75px" fill="#1c1c1c" stroke="#1c1c1c" stroke-width="0.45">***</text>
<text x="228.47" y="364.94" text-anchor="middle" style="font-size:9.6px;letter-spacing:0.75px" fill="#1c1c1c" stroke="#1c1c1c" stroke-width="0.45">***</text>
<text transform="translate(21.80,365.47) rotate(-90) scale(0.590,1)" style="font-size:14.20px" fill="#1c1c1c" stroke="#1c1c1c" stroke-width="0.5">LT</text>
<text transform="translate(21.29,352.82) rotate(-90) scale(0.773,1)" style="font-size:13.37px" fill="#1c1c1c" stroke="#1c1c1c" stroke-width="0.5">(s)</text>
<line x1="327.30" y1="290.30" x2="327.30" y2="416.50" stroke="#1c1c1c" stroke-width="1.4" />
<line x1="323.00" y1="415.75" x2="327.30" y2="415.75" stroke="#1c1c1c" stroke-width="1.1" />
<line x1="325.30" y1="400.65" x2="327.30" y2="400.65" stroke="#1c1c1c" stroke-width="1.1" />
<line x1="323.00" y1="385.55" x2="327.30" y2="385.55" stroke="#1c1c1c" stroke-width="1.1" />
<line x1="325.30" y1="370.45" x2="327.30" y2="370.45" stroke="#1c1c1c" stroke-width="1.1" />
<line x1="323.00" y1="355.35" x2="327.30" y2="355.35" stroke="#1c1c1c" stroke-width="1.1" />
<line x1="325.30" y1="340.25" x2="327.30" y2="340.25" stroke="#1c1c1c" stroke-width="1.1" />
<line x1="323.00" y1="325.15" x2="327.30" y2="325.15" stroke="#1c1c1c" stroke-width="1.1" />
<line x1="325.30" y1="310.05" x2="327.30" y2="310.05" stroke="#1c1c1c" stroke-width="1.1" />
<line x1="323.00" y1="294.95" x2="327.30" y2="294.95" stroke="#1c1c1c" stroke-width="1.1" />
<g transform="translate(317.70,419.20) scale(1.150,1)" fill="#1c1c1c" stroke="#1c1c1c" stroke-width="0.3"><text x="-5.30" y="0" style="font-size:10.20px">0</text></g>
<g transform="translate(317.70,389.00) scale(1.150,1)" fill="#1c1c1c" stroke="#1c1c1c" stroke-width="0.3"><text x="-17.13 -11.22 -5.30" y="0" style="font-size:10.20px">000</text><path d="M -19.88 0.00 L -18.96 0.00 L -18.96 -7.17 L -19.63 -7.17 Q -19.98 -6.12 -21.82 -5.86 L -21.82 -5.10 Q -20.39 -5.20 -19.88 -5.76 Z"/></g>
<g transform="translate(317.70,358.80) scale(1.150,1)" fill="#1c1c1c" stroke="#1c1c1c" stroke-width="0.3"><text x="-23.04 -17.13 -11.22 -5.30" y="0" style="font-size:10.20px">2000</text></g>
<g transform="translate(317.70,328.60) scale(1.150,1)" fill="#1c1c1c" stroke="#1c1c1c" stroke-width="0.3"><text x="-23.04 -17.13 -11.22 -5.30" y="0" style="font-size:10.20px">3000</text></g>
<g transform="translate(317.70,298.40) scale(1.150,1)" fill="#1c1c1c" stroke="#1c1c1c" stroke-width="0.3"><text x="-23.04 -17.13 -11.22 -5.30" y="0" style="font-size:10.20px">4000</text></g>
<line x1="327.30" y1="415.80" x2="510.00" y2="415.80" stroke="#1c1c1c" stroke-width="1.4" />
<line x1="328.30" y1="326.30" x2="506.50" y2="326.30" stroke="#222" stroke-width="1.1" stroke-dasharray="1.3 1.8"/>
<rect x="335.20" y="326.20" width="13.80" height="89.60" fill="#5e2570"/>
<line x1="342.10" y1="318.80" x2="342.10" y2="326.70" stroke="#1c1c1c" stroke-width="1.3" />
<line x1="338.30" y1="318.80" x2="345.90" y2="318.80" stroke="#1c1c1c" stroke-width="1.4" />
<rect x="357.05" y="335.20" width="13.80" height="80.60" fill="#5e2570"/>
<line x1="363.95" y1="326.50" x2="363.95" y2="335.70" stroke="#1c1c1c" stroke-width="1.3" />
<line x1="360.15" y1="326.50" x2="367.75" y2="326.50" stroke="#1c1c1c" stroke-width="1.4" />
<rect x="378.90" y="344.20" width="13.80" height="71.60" fill="#5e2570"/>
<line x1="385.80" y1="339.60" x2="385.80" y2="344.70" stroke="#1c1c1c" stroke-width="1.3" />
<line x1="382.00" y1="339.60" x2="389.60" y2="339.60" stroke="#1c1c1c" stroke-width="1.4" />
<rect x="400.75" y="363.20" width="13.80" height="52.60" fill="#5e2570"/>
<line x1="407.65" y1="357.40" x2="407.65" y2="363.70" stroke="#1c1c1c" stroke-width="1.3" />
<line x1="403.85" y1="357.40" x2="411.45" y2="357.40" stroke="#1c1c1c" stroke-width="1.4" />
<rect x="422.60" y="381.20" width="13.80" height="34.60" fill="#5e2570"/>
<line x1="429.50" y1="378.80" x2="429.50" y2="381.70" stroke="#1c1c1c" stroke-width="1.3" />
<line x1="425.70" y1="378.80" x2="433.30" y2="378.80" stroke="#1c1c1c" stroke-width="1.4" />
<rect x="444.45" y="382.80" width="13.80" height="33.00" fill="#5e2570"/>
<line x1="451.35" y1="380.70" x2="451.35" y2="383.30" stroke="#1c1c1c" stroke-width="1.3" />
<line x1="447.55" y1="380.70" x2="455.15" y2="380.70" stroke="#1c1c1c" stroke-width="1.4" />
<rect x="466.30" y="381.80" width="13.80" height="34.00" fill="#5e2570"/>
<line x1="473.20" y1="380.00" x2="473.20" y2="382.30" stroke="#1c1c1c" stroke-width="1.3" />
<line x1="469.40" y1="380.00" x2="477.00" y2="380.00" stroke="#1c1c1c" stroke-width="1.4" />
<rect x="488.15" y="377.00" width="13.80" height="38.80" fill="#5e2570"/>
<line x1="495.05" y1="374.70" x2="495.05" y2="377.50" stroke="#1c1c1c" stroke-width="1.3" />
<line x1="491.25" y1="374.70" x2="498.85" y2="374.70" stroke="#1c1c1c" stroke-width="1.4" />
<line x1="342.10" y1="415.80" x2="342.10" y2="420.10" stroke="#1c1c1c" stroke-width="1.1" />
<line x1="363.95" y1="415.80" x2="363.95" y2="420.10" stroke="#1c1c1c" stroke-width="1.1" />
<line x1="385.80" y1="415.80" x2="385.80" y2="420.10" stroke="#1c1c1c" stroke-width="1.1" />
<line x1="407.65" y1="415.80" x2="407.65" y2="420.10" stroke="#1c1c1c" stroke-width="1.1" />
<line x1="429.50" y1="415.80" x2="429.50" y2="420.10" stroke="#1c1c1c" stroke-width="1.1" />
<line x1="451.35" y1="415.80" x2="451.35" y2="420.10" stroke="#1c1c1c" stroke-width="1.1" />
<line x1="473.20" y1="415.80" x2="473.20" y2="420.10" stroke="#1c1c1c" stroke-width="1.1" />
<line x1="495.05" y1="415.80" x2="495.05" y2="420.10" stroke="#1c1c1c" stroke-width="1.1" />
<g transform="translate(348.10,432.80) scale(1.150,1) rotate(-45)" fill="#1c1c1c" stroke="#1c1c1c" stroke-width="0.3"><text x="-5.41" y="0" style="font-size:10.40px">0</text></g>
<g transform="translate(369.95,432.80) scale(1.150,1) rotate(-45)" fill="#1c1c1c" stroke="#1c1c1c" stroke-width="0.3"><text x="-19.81 -14.03 -11.14 -5.36" y="0" style="font-size:10.40px">0.48</text></g>
<g transform="translate(391.80,432.80) scale(1.150,1) rotate(-45)" fill="#1c1c1c" stroke="#1c1c1c" stroke-width="0.3"><text x="-19.92 -14.13 -11.24 -5.46" y="0" style="font-size:10.40px">0.94</text></g>
<g transform="translate(413.65,432.80) scale(1.150,1) rotate(-45)" fill="#1c1c1c" stroke="#1c1c1c" stroke-width="0.3"><text x="-14.03 -11.14 -5.36" y="0" style="font-size:10.40px">.88</text><path d="M -16.59 0.00 L -15.65 0.00 L -15.65 -7.31 L -16.33 -7.31 Q -16.69 -6.24 -18.57 -5.98 L -18.57 -5.20 Q -17.11 -5.30 -16.59 -5.88 Z"/></g>
<g transform="translate(435.50,432.80) scale(1.150,1) rotate(-45)" fill="#1c1c1c" stroke="#1c1c1c" stroke-width="0.3"><text x="-19.81 -14.03 -11.14 -5.36" y="0" style="font-size:10.40px">3.75</text></g>
<g transform="translate(457.35,432.80) scale(1.150,1) rotate(-45)" fill="#1c1c1c" stroke="#1c1c1c" stroke-width="0.3"><text x="-12.23 -8.25 -5.36" y="0" style="font-size:10.40px">7.5</text></g>
<g transform="translate(479.20,432.80) scale(1.150,1) rotate(-45)" fill="#1c1c1c" stroke="#1c1c1c" stroke-width="0.3"><text x="-5.36" y="0" style="font-size:10.40px">5</text><path d="M -7.92 0.00 L -6.98 0.00 L -6.98 -7.31 L -7.66 -7.31 Q -8.02 -6.24 -9.89 -5.98 L -9.89 -5.20 Q -8.44 -5.30 -7.92 -5.88 Z"/></g>
<g transform="translate(501.05,432.80) scale(1.150,1) rotate(-45)" fill="#1c1c1c" stroke="#1c1c1c" stroke-width="0.3"><text x="-11.19 -5.41" y="0" style="font-size:10.40px">30</text></g>
<text x="386.17" y="337.24" text-anchor="middle" style="font-size:9.6px;letter-spacing:0.75px" fill="#1c1c1c" stroke="#1c1c1c" stroke-width="0.45">*</text>
<text x="408.02" y="355.54" text-anchor="middle" style="font-size:9.6px;letter-spacing:0.75px" fill="#1c1c1c" stroke="#1c1c1c" stroke-width="0.45">****</text>
<text x="429.88" y="376.54" text-anchor="middle" style="font-size:9.6px;letter-spacing:0.75px" fill="#1c1c1c" stroke="#1c1c1c" stroke-width="0.45">****</text>
<text x="451.72" y="378.64" text-anchor="middle" style="font-size:9.6px;letter-spacing:0.75px" fill="#1c1c1c" stroke="#1c1c1c" stroke-width="0.45">****</text>
<text x="473.57" y="378.64" text-anchor="middle" style="font-size:9.6px;letter-spacing:0.75px" fill="#1c1c1c" stroke="#1c1c1c" stroke-width="0.45">****</text>
<text x="495.42" y="372.44" text-anchor="middle" style="font-size:9.6px;letter-spacing:0.75px" fill="#1c1c1c" stroke="#1c1c1c" stroke-width="0.45">****</text>
<text transform="translate(283.00,400.89) rotate(-90) scale(0.707,1)" style="font-size:13.80px" fill="#1c1c1c" stroke="#1c1c1c" stroke-width="0.5">Time to 100% lysis (s)</text>
<line x1="65.90" y1="532.40" x2="65.90" y2="658.80" stroke="#1c1c1c" stroke-width="1.4" />
<line x1="61.60" y1="658.00" x2="65.90" y2="658.00" stroke="#1c1c1c" stroke-width="1.1" />
<line x1="63.90" y1="653.96" x2="65.90" y2="653.96" stroke="#1c1c1c" stroke-width="1.1" />
<line x1="63.90" y1="649.93" x2="65.90" y2="649.93" stroke="#1c1c1c" stroke-width="1.1" />
<line x1="63.90" y1="645.89" x2="65.90" y2="645.89" stroke="#1c1c1c" stroke-width="1.1" />
<line x1="63.90" y1="641.85" x2="65.90" y2="641.85" stroke="#1c1c1c" stroke-width="1.1" />
<line x1="61.60" y1="637.82" x2="65.90" y2="637.82" stroke="#1c1c1c" stroke-width="1.1" />
<line x1="63.90" y1="633.78" x2="65.90" y2="633.78" stroke="#1c1c1c" stroke-width="1.1" />
<line x1="63.90" y1="629.74" x2="65.90" y2="629.74" stroke="#1c1c1c" stroke-width="1.1" />
<line x1="63.90" y1="625.71" x2="65.90" y2="625.71" stroke="#1c1c1c" stroke-width="1.1" />
<line x1="63.90" y1="621.67" x2="65.90" y2="621.67" stroke="#1c1c1c" stroke-width="1.1" />
<line x1="61.60" y1="617.63" x2="65.90" y2="617.63" stroke="#1c1c1c" stroke-width="1.1" />
<line x1="63.90" y1="613.60" x2="65.90" y2="613.60" stroke="#1c1c1c" stroke-width="1.1" />
<line x1="63.90" y1="609.56" x2="65.90" y2="609.56" stroke="#1c1c1c" stroke-width="1.1" />
<line x1="63.90" y1="605.52" x2="65.90" y2="605.52" stroke="#1c1c1c" stroke-width="1.1" />
<line x1="63.90" y1="601.49" x2="65.90" y2="601.49" stroke="#1c1c1c" stroke-width="1.1" />
<line x1="61.60" y1="597.45" x2="65.90" y2="597.45" stroke="#1c1c1c" stroke-width="1.1" />
<line x1="63.90" y1="593.41" x2="65.90" y2="593.41" stroke="#1c1c1c" stroke-width="1.1" />
<line x1="63.90" y1="589.38" x2="65.90" y2="589.38" stroke="#1c1c1c" stroke-width="1.1" />
<line x1="63.90" y1="585.34" x2="65.90" y2="585.34" stroke="#1c1c1c" stroke-width="1.1" />
<line x1="63.90" y1="581.30" x2="65.90" y2="581.30" stroke="#1c1c1c" stroke-width="1.1" />
<line x1="61.60" y1="577.27" x2="65.90" y2="577.27" stroke="#1c1c1c" stroke-width="1.1" />
<line x1="63.90" y1="573.23" x2="65.90" y2="573.23" stroke="#1c1c1c" stroke-width="1.1" />
<line x1="63.90" y1="569.19" x2="65.90" y2="569.19" stroke="#1c1c1c" stroke-width="1.1" />
<line x1="63.90" y1="565.16" x2="65.90" y2="565.16" stroke="#1c1c1c" stroke-width="1.1" />
<line x1="63.90" y1="561.12" x2="65.90" y2="561.12" stroke="#1c1c1c" stroke-width="1.1" />
<line x1="61.60" y1="557.08" x2="65.90" y2="557.08" stroke="#1c1c1c" stroke-width="1.1" />
<line x1="63.90" y1="553.05" x2="65.90" y2="553.05" stroke="#1c1c1c" stroke-width="1.1" />
<line x1="63.90" y1="549.01" x2="65.90" y2="549.01" stroke="#1c1c1c" stroke-width="1.1" />
<line x1="63.90" y1="544.97" x2="65.90" y2="544.97" stroke="#1c1c1c" stroke-width="1.1" />
<line x1="63.90" y1="540.94" x2="65.90" y2="540.94" stroke="#1c1c1c" stroke-width="1.1" />
<line x1="61.60" y1="536.90" x2="65.90" y2="536.90" stroke="#1c1c1c" stroke-width="1.1" />
<g transform="translate(56.40,662.05) scale(1.150,1)" fill="#1c1c1c" stroke="#1c1c1c" stroke-width="0.3"><text x="-13.38 -7.46 -5.20" y="0" style="font-size:10.20px">0.9</text></g>
<g transform="translate(56.40,641.87) scale(1.150,1)" fill="#1c1c1c" stroke="#1c1c1c" stroke-width="0.3"><text x="-7.56 -5.30" y="0" style="font-size:10.20px">.0</text><path d="M -10.32 0.00 L -9.40 0.00 L -9.40 -7.17 L -10.06 -7.17 Q -10.42 -6.12 -12.25 -5.86 L -12.25 -5.10 Q -10.83 -5.20 -10.32 -5.76 Z"/></g>
<g transform="translate(56.40,621.68) scale(1.150,1)" fill="#1c1c1c" stroke="#1c1c1c" stroke-width="0.3"><text x="-6.34" y="0" style="font-size:10.20px">.</text><path d="M -9.09 0.00 L -8.17 0.00 L -8.17 -7.17 L -8.84 -7.17 Q -9.19 -6.12 -11.03 -5.86 L -11.03 -5.10 Q -9.60 -5.20 -9.09 -5.76 Z"/><path d="M -0.92 0.00 L 0.00 0.00 L 0.00 -7.17 L -0.66 -7.17 Q -1.02 -6.12 -2.86 -5.86 L -2.86 -5.10 Q -1.43 -5.20 -0.92 -5.76 Z"/></g>
<g transform="translate(56.40,601.50) scale(1.150,1)" fill="#1c1c1c" stroke="#1c1c1c" stroke-width="0.3"><text x="-7.41 -5.15" y="0" style="font-size:10.20px">.2</text><path d="M -10.16 0.00 L -9.24 0.00 L -9.24 -7.17 L -9.91 -7.17 Q -10.26 -6.12 -12.10 -5.86 L -12.10 -5.10 Q -10.67 -5.20 -10.16 -5.76 Z"/></g>
<g transform="translate(56.40,581.32) scale(1.150,1)" fill="#1c1c1c" stroke="#1c1c1c" stroke-width="0.3"><text x="-7.51 -5.25" y="0" style="font-size:10.20px">.3</text><path d="M -10.26 0.00 L -9.35 0.00 L -9.35 -7.17 L -10.01 -7.17 Q -10.37 -6.12 -12.20 -5.86 L -12.20 -5.10 Q -10.77 -5.20 -10.26 -5.76 Z"/></g>
<g transform="translate(56.40,561.13) scale(1.150,1)" fill="#1c1c1c" stroke="#1c1c1c" stroke-width="0.3"><text x="-7.62 -5.35" y="0" style="font-size:10.20px">.4</text><path d="M -10.37 0.00 L -9.45 0.00 L -9.45 -7.17 L -10.11 -7.17 Q -10.47 -6.12 -12.30 -5.86 L -12.30 -5.10 Q -10.88 -5.20 -10.37 -5.76 Z"/></g>
<g transform="translate(56.40,540.95) scale(1.150,1)" fill="#1c1c1c" stroke="#1c1c1c" stroke-width="0.3"><text x="-7.51 -5.25" y="0" style="font-size:10.20px">.5</text><path d="M -10.26 0.00 L -9.35 0.00 L -9.35 -7.17 L -10.01 -7.17 Q -10.37 -6.12 -12.20 -5.86 L -12.20 -5.10 Q -10.77 -5.20 -10.26 -5.76 Z"/></g>
<line x1="65.90" y1="658.10" x2="248.50" y2="658.10" stroke="#1c1c1c" stroke-width="1.4" />
<line x1="66.90" y1="638.10" x2="248.00" y2="638.10" stroke="#222" stroke-width="1.1" stroke-dasharray="1.3 1.8"/>
<line x1="92.60" y1="658.10" x2="92.60" y2="662.40" stroke="#1c1c1c" stroke-width="1.1" />
<line x1="124.80" y1="658.10" x2="124.80" y2="662.40" stroke="#1c1c1c" stroke-width="1.1" />
<line x1="157.10" y1="658.10" x2="157.10" y2="662.40" stroke="#1c1c1c" stroke-width="1.1" />
<line x1="189.40" y1="658.10" x2="189.40" y2="662.40" stroke="#1c1c1c" stroke-width="1.1" />
<line x1="221.30" y1="658.10" x2="221.30" y2="662.40" stroke="#1c1c1c" stroke-width="1.1" />
<g transform="translate(92.60,676.60) scale(1.150,1)" fill="#1c1c1c" stroke="#1c1c1c" stroke-width="0.3"><text x="-4.37 -2.11 3.80" y="0" style="font-size:10.20px">.88</text><path d="M -7.12 0.00 L -6.20 0.00 L -6.20 -7.17 L -6.86 -7.17 Q -7.22 -6.12 -9.06 -5.86 L -9.06 -5.10 Q -7.63 -5.20 -7.12 -5.76 Z"/></g>
<g transform="translate(124.80,676.60) scale(1.150,1)" fill="#1c1c1c" stroke="#1c1c1c" stroke-width="0.3"><text x="-9.87 -3.96 -1.70 4.21" y="0" style="font-size:10.20px">3.75</text></g>
<g transform="translate(157.10,676.60) scale(1.150,1)" fill="#1c1c1c" stroke="#1c1c1c" stroke-width="0.3"><text x="-6.01 -2.01 0.25" y="0" style="font-size:10.20px">7.5</text></g>
<g transform="translate(189.40,676.60) scale(1.150,1)" fill="#1c1c1c" stroke="#1c1c1c" stroke-width="0.3"><text x="-0.28" y="0" style="font-size:10.20px">5</text><path d="M -3.03 0.00 L -2.12 0.00 L -2.12 -7.17 L -2.78 -7.17 Q -3.14 -6.12 -4.97 -5.86 L -4.97 -5.10 Q -3.54 -5.20 -3.03 -5.76 Z"/></g>
<g transform="translate(221.30,676.60) scale(1.150,1)" fill="#1c1c1c" stroke="#1c1c1c" stroke-width="0.3"><text x="-5.81 0.10" y="0" style="font-size:10.20px">30</text></g>
<line x1="92.60" y1="614.50" x2="92.60" y2="635.60" stroke="#1c1c1c" stroke-width="1.3" />
<line x1="87.60" y1="614.50" x2="97.60" y2="614.50" stroke="#1c1c1c" stroke-width="1.3" />
<line x1="87.60" y1="635.60" x2="97.60" y2="635.60" stroke="#1c1c1c" stroke-width="1.3" />
<line x1="82.00" y1="625.50" x2="103.20" y2="625.50" stroke="#1c1c1c" stroke-width="1.4" />
<circle cx="87.80" cy="612.90" r="2.05" fill="#4a2868" stroke="#331646" stroke-width="0.7"/>
<circle cx="97.90" cy="616.30" r="2.05" fill="#4a2868" stroke="#331646" stroke-width="0.7"/>
<circle cx="92.50" cy="646.40" r="2.05" fill="#4a2868" stroke="#331646" stroke-width="0.7"/>
<line x1="124.80" y1="577.10" x2="124.80" y2="588.30" stroke="#1c1c1c" stroke-width="1.3" />
<line x1="119.80" y1="577.10" x2="129.80" y2="577.10" stroke="#1c1c1c" stroke-width="1.3" />
<line x1="119.80" y1="588.30" x2="129.80" y2="588.30" stroke="#1c1c1c" stroke-width="1.3" />
<line x1="114.20" y1="582.60" x2="135.40" y2="582.60" stroke="#1c1c1c" stroke-width="1.4" />
<circle cx="124.80" cy="571.40" r="2.05" fill="#4a2868" stroke="#331646" stroke-width="0.7"/>
<circle cx="129.90" cy="586.90" r="2.05" fill="#4a2868" stroke="#331646" stroke-width="0.7"/>
<circle cx="120.10" cy="589.90" r="2.05" fill="#4a2868" stroke="#331646" stroke-width="0.7"/>
<line x1="157.10" y1="606.70" x2="157.10" y2="614.00" stroke="#1c1c1c" stroke-width="1.3" />
<line x1="152.10" y1="606.70" x2="162.10" y2="606.70" stroke="#1c1c1c" stroke-width="1.3" />
<line x1="152.10" y1="614.00" x2="162.10" y2="614.00" stroke="#1c1c1c" stroke-width="1.3" />
<line x1="146.50" y1="610.50" x2="167.70" y2="610.50" stroke="#1c1c1c" stroke-width="1.4" />
<circle cx="157.10" cy="602.90" r="2.05" fill="#4a2868" stroke="#331646" stroke-width="0.7"/>
<circle cx="157.10" cy="611.30" r="2.05" fill="#4a2868" stroke="#331646" stroke-width="0.7"/>
<circle cx="157.10" cy="616.30" r="2.05" fill="#4a2868" stroke="#331646" stroke-width="0.7"/>
<line x1="189.40" y1="610.50" x2="189.40" y2="623.40" stroke="#1c1c1c" stroke-width="1.3" />
<line x1="184.40" y1="610.50" x2="194.40" y2="610.50" stroke="#1c1c1c" stroke-width="1.3" />
<line x1="184.40" y1="623.40" x2="194.40" y2="623.40" stroke="#1c1c1c" stroke-width="1.3" />
<line x1="178.80" y1="616.80" x2="200.00" y2="616.80" stroke="#1c1c1c" stroke-width="1.4" />
<circle cx="189.40" cy="604.10" r="2.05" fill="#4a2868" stroke="#331646" stroke-width="0.7"/>
<circle cx="189.40" cy="619.80" r="2.05" fill="#4a2868" stroke="#331646" stroke-width="0.7"/>
<circle cx="189.40" cy="626.00" r="2.05" fill="#4a2868" stroke="#331646" stroke-width="0.7"/>
<line x1="221.30" y1="570.10" x2="221.30" y2="596.50" stroke="#1c1c1c" stroke-width="1.3" />
<line x1="216.30" y1="570.10" x2="226.30" y2="570.10" stroke="#1c1c1c" stroke-width="1.3" />
<line x1="216.30" y1="596.50" x2="226.30" y2="596.50" stroke="#1c1c1c" stroke-width="1.3" />
<line x1="210.70" y1="583.30" x2="231.90" y2="583.30" stroke="#1c1c1c" stroke-width="1.4" />
<circle cx="221.30" cy="557.50" r="2.05" fill="#4a2868" stroke="#331646" stroke-width="0.7"/>
<circle cx="216.30" cy="596.90" r="2.05" fill="#4a2868" stroke="#331646" stroke-width="0.7"/>
<circle cx="226.40" cy="595.70" r="2.05" fill="#4a2868" stroke="#331646" stroke-width="0.7"/>
<text transform="translate(32.81,620.24) rotate(-90) scale(0.698,1)" style="font-size:13.26px" fill="#1c1c1c" stroke="#1c1c1c" stroke-width="0.5">Fold change</text>
<line x1="327.80" y1="531.90" x2="327.80" y2="658.40" stroke="#1c1c1c" stroke-width="1.4" />
<line x1="323.50" y1="657.70" x2="327.80" y2="657.70" stroke="#1c1c1c" stroke-width="1.1" />
<line x1="325.80" y1="653.66" x2="327.80" y2="653.66" stroke="#1c1c1c" stroke-width="1.1" />
<line x1="325.80" y1="649.62" x2="327.80" y2="649.62" stroke="#1c1c1c" stroke-width="1.1" />
<line x1="325.80" y1="645.58" x2="327.80" y2="645.58" stroke="#1c1c1c" stroke-width="1.1" />
<line x1="325.80" y1="641.54" x2="327.80" y2="641.54" stroke="#1c1c1c" stroke-width="1.1" />
<line x1="323.50" y1="637.50" x2="327.80" y2="637.50" stroke="#1c1c1c" stroke-width="1.1" />
<line x1="325.80" y1="633.46" x2="327.80" y2="633.46" stroke="#1c1c1c" stroke-width="1.1" />
<line x1="325.80" y1="629.42" x2="327.80" y2="629.42" stroke="#1c1c1c" stroke-width="1.1" />
<line x1="325.80" y1="625.38" x2="327.80" y2="625.38" stroke="#1c1c1c" stroke-width="1.1" />
<line x1="325.80" y1="621.34" x2="327.80" y2="621.34" stroke="#1c1c1c" stroke-width="1.1" />
<line x1="323.50" y1="617.30" x2="327.80" y2="617.30" stroke="#1c1c1c" stroke-width="1.1" />
<line x1="325.80" y1="613.26" x2="327.80" y2="613.26" stroke="#1c1c1c" stroke-width="1.1" />
<line x1="325.80" y1="609.22" x2="327.80" y2="609.22" stroke="#1c1c1c" stroke-width="1.1" />
<line x1="325.80" y1="605.18" x2="327.80" y2="605.18" stroke="#1c1c1c" stroke-width="1.1" />
<line x1="325.80" y1="601.14" x2="327.80" y2="601.14" stroke="#1c1c1c" stroke-width="1.1" />
<line x1="323.50" y1="597.10" x2="327.80" y2="597.10" stroke="#1c1c1c" stroke-width="1.1" />
<line x1="325.80" y1="593.06" x2="327.80" y2="593.06" stroke="#1c1c1c" stroke-width="1.1" />
<line x1="325.80" y1="589.02" x2="327.80" y2="589.02" stroke="#1c1c1c" stroke-width="1.1" />
<line x1="325.80" y1="584.98" x2="327.80" y2="584.98" stroke="#1c1c1c" stroke-width="1.1" />
<line x1="325.80" y1="580.94" x2="327.80" y2="580.94" stroke="#1c1c1c" stroke-width="1.1" />
<line x1="323.50" y1="576.90" x2="327.80" y2="576.90" stroke="#1c1c1c" stroke-width="1.1" />
<line x1="325.80" y1="572.86" x2="327.80" y2="572.86" stroke="#1c1c1c" stroke-width="1.1" />
<line x1="325.80" y1="568.82" x2="327.80" y2="568.82" stroke="#1c1c1c" stroke-width="1.1" />
<line x1="325.80" y1="564.78" x2="327.80" y2="564.78" stroke="#1c1c1c" stroke-width="1.1" />
<line x1="325.80" y1="560.74" x2="327.80" y2="560.74" stroke="#1c1c1c" stroke-width="1.1" />
<line x1="323.50" y1="556.70" x2="327.80" y2="556.70" stroke="#1c1c1c" stroke-width="1.1" />
<line x1="325.80" y1="552.66" x2="327.80" y2="552.66" stroke="#1c1c1c" stroke-width="1.1" />
<line x1="325.80" y1="548.62" x2="327.80" y2="548.62" stroke="#1c1c1c" stroke-width="1.1" />
<line x1="325.80" y1="544.58" x2="327.80" y2="544.58" stroke="#1c1c1c" stroke-width="1.1" />
<line x1="325.80" y1="540.54" x2="327.80" y2="540.54" stroke="#1c1c1c" stroke-width="1.1" />
<line x1="323.50" y1="536.50" x2="327.80" y2="536.50" stroke="#1c1c1c" stroke-width="1.1" />
<g transform="translate(318.50,661.75) scale(1.150,1)" fill="#1c1c1c" stroke="#1c1c1c" stroke-width="0.3"><text x="-13.32 -7.41 -5.15" y="0" style="font-size:10.20px">0.7</text></g>
<g transform="translate(318.50,641.55) scale(1.150,1)" fill="#1c1c1c" stroke="#1c1c1c" stroke-width="0.3"><text x="-13.43 -7.51 -5.25" y="0" style="font-size:10.20px">0.8</text></g>
<g transform="translate(318.50,621.35) scale(1.150,1)" fill="#1c1c1c" stroke="#1c1c1c" stroke-width="0.3"><text x="-13.38 -7.46 -5.20" y="0" style="font-size:10.20px">0.9</text></g>
<g transform="translate(318.50,601.15) scale(1.150,1)" fill="#1c1c1c" stroke="#1c1c1c" stroke-width="0.3"><text x="-7.56 -5.30" y="0" style="font-size:10.20px">.0</text><path d="M -10.32 0.00 L -9.40 0.00 L -9.40 -7.17 L -10.06 -7.17 Q -10.42 -6.12 -12.25 -5.86 L -12.25 -5.10 Q -10.83 -5.20 -10.32 -5.76 Z"/></g>
<g transform="translate(318.50,580.95) scale(1.150,1)" fill="#1c1c1c" stroke="#1c1c1c" stroke-width="0.3"><text x="-6.34" y="0" style="font-size:10.20px">.</text><path d="M -9.09 0.00 L -8.17 0.00 L -8.17 -7.17 L -8.84 -7.17 Q -9.19 -6.12 -11.03 -5.86 L -11.03 -5.10 Q -9.60 -5.20 -9.09 -5.76 Z"/><path d="M -0.92 0.00 L 0.00 0.00 L 0.00 -7.17 L -0.66 -7.17 Q -1.02 -6.12 -2.86 -5.86 L -2.86 -5.10 Q -1.43 -5.20 -0.92 -5.76 Z"/></g>
<g transform="translate(318.50,560.75) scale(1.150,1)" fill="#1c1c1c" stroke="#1c1c1c" stroke-width="0.3"><text x="-7.41 -5.15" y="0" style="font-size:10.20px">.2</text><path d="M -10.16 0.00 L -9.24 0.00 L -9.24 -7.17 L -9.91 -7.17 Q -10.26 -6.12 -12.10 -5.86 L -12.10 -5.10 Q -10.67 -5.20 -10.16 -5.76 Z"/></g>
<g transform="translate(318.50,540.55) scale(1.150,1)" fill="#1c1c1c" stroke="#1c1c1c" stroke-width="0.3"><text x="-7.51 -5.25" y="0" style="font-size:10.20px">.3</text><path d="M -10.26 0.00 L -9.35 0.00 L -9.35 -7.17 L -10.01 -7.17 Q -10.37 -6.12 -12.20 -5.86 L -12.20 -5.10 Q -10.77 -5.20 -10.26 -5.76 Z"/></g>
<line x1="327.80" y1="657.70" x2="509.60" y2="657.70" stroke="#1c1c1c" stroke-width="1.4" />
<line x1="328.80" y1="597.30" x2="509.00" y2="597.30" stroke="#222" stroke-width="1.1" stroke-dasharray="1.3 1.8"/>
<line x1="353.80" y1="657.70" x2="353.80" y2="662.00" stroke="#1c1c1c" stroke-width="1.1" />
<line x1="386.40" y1="657.70" x2="386.40" y2="662.00" stroke="#1c1c1c" stroke-width="1.1" />
<line x1="418.30" y1="657.70" x2="418.30" y2="662.00" stroke="#1c1c1c" stroke-width="1.1" />
<line x1="450.50" y1="657.70" x2="450.50" y2="662.00" stroke="#1c1c1c" stroke-width="1.1" />
<line x1="482.70" y1="657.70" x2="482.70" y2="662.00" stroke="#1c1c1c" stroke-width="1.1" />
<g transform="translate(353.80,676.40) scale(1.150,1)" fill="#1c1c1c" stroke="#1c1c1c" stroke-width="0.3"><text x="-4.37 -2.11 3.80" y="0" style="font-size:10.20px">.88</text><path d="M -7.12 0.00 L -6.20 0.00 L -6.20 -7.17 L -6.86 -7.17 Q -7.22 -6.12 -9.06 -5.86 L -9.06 -5.10 Q -7.63 -5.20 -7.12 -5.76 Z"/></g>
<g transform="translate(386.40,676.40) scale(1.150,1)" fill="#1c1c1c" stroke="#1c1c1c" stroke-width="0.3"><text x="-9.87 -3.96 -1.70 4.21" y="0" style="font-size:10.20px">3.75</text></g>
<g transform="translate(418.30,676.40) scale(1.150,1)" fill="#1c1c1c" stroke="#1c1c1c" stroke-width="0.3"><text x="-6.01 -2.01 0.25" y="0" style="font-size:10.20px">7.5</text></g>
<g transform="translate(450.50,676.40) scale(1.150,1)" fill="#1c1c1c" stroke="#1c1c1c" stroke-width="0.3"><text x="-0.28" y="0" style="font-size:10.20px">5</text><path d="M -3.03 0.00 L -2.12 0.00 L -2.12 -7.17 L -2.78 -7.17 Q -3.14 -6.12 -4.97 -5.86 L -4.97 -5.10 Q -3.54 -5.20 -3.03 -5.76 Z"/></g>
<g transform="translate(482.70,676.40) scale(1.150,1)" fill="#1c1c1c" stroke="#1c1c1c" stroke-width="0.3"><text x="-5.81 0.10" y="0" style="font-size:10.20px">30</text></g>
<line x1="353.80" y1="581.10" x2="353.80" y2="613.20" stroke="#1c1c1c" stroke-width="1.3" />
<line x1="348.80" y1="581.10" x2="358.80" y2="581.10" stroke="#1c1c1c" stroke-width="1.3" />
<line x1="348.80" y1="613.20" x2="358.80" y2="613.20" stroke="#1c1c1c" stroke-width="1.3" />
<line x1="343.20" y1="597.20" x2="364.40" y2="597.20" stroke="#1c1c1c" stroke-width="1.4" />
<circle cx="353.80" cy="549.90" r="2.05" fill="#4a2868" stroke="#331646" stroke-width="0.7"/>
<circle cx="349.20" cy="609.20" r="2.05" fill="#4a2868" stroke="#331646" stroke-width="0.7"/>
<circle cx="349.20" cy="615.50" r="2.05" fill="#4a2868" stroke="#331646" stroke-width="0.7"/>
<circle cx="359.20" cy="614.30" r="2.05" fill="#4a2868" stroke="#331646" stroke-width="0.7"/>
<line x1="386.40" y1="576.20" x2="386.40" y2="605.30" stroke="#1c1c1c" stroke-width="1.3" />
<line x1="381.40" y1="576.20" x2="391.40" y2="576.20" stroke="#1c1c1c" stroke-width="1.3" />
<line x1="381.40" y1="605.30" x2="391.40" y2="605.30" stroke="#1c1c1c" stroke-width="1.3" />
<line x1="375.80" y1="590.80" x2="397.00" y2="590.80" stroke="#1c1c1c" stroke-width="1.4" />
<circle cx="386.60" cy="548.10" r="2.05" fill="#4a2868" stroke="#331646" stroke-width="0.7"/>
<circle cx="381.50" cy="598.90" r="2.05" fill="#4a2868" stroke="#331646" stroke-width="0.7"/>
<circle cx="391.50" cy="599.30" r="2.05" fill="#4a2868" stroke="#331646" stroke-width="0.7"/>
<circle cx="386.60" cy="615.70" r="2.05" fill="#4a2868" stroke="#331646" stroke-width="0.7"/>
<line x1="418.30" y1="596.20" x2="418.30" y2="616.30" stroke="#1c1c1c" stroke-width="1.3" />
<line x1="413.30" y1="596.20" x2="423.30" y2="596.20" stroke="#1c1c1c" stroke-width="1.3" />
<line x1="413.30" y1="616.30" x2="423.30" y2="616.30" stroke="#1c1c1c" stroke-width="1.3" />
<line x1="407.70" y1="606.30" x2="428.90" y2="606.30" stroke="#1c1c1c" stroke-width="1.4" />
<circle cx="418.30" cy="586.50" r="2.05" fill="#4a2868" stroke="#331646" stroke-width="0.7"/>
<circle cx="418.30" cy="597.30" r="2.05" fill="#4a2868" stroke="#331646" stroke-width="0.7"/>
<circle cx="418.30" cy="606.50" r="2.05" fill="#4a2868" stroke="#331646" stroke-width="0.7"/>
<circle cx="418.30" cy="633.50" r="2.05" fill="#4a2868" stroke="#331646" stroke-width="0.7"/>
<line x1="450.50" y1="584.60" x2="450.50" y2="617.90" stroke="#1c1c1c" stroke-width="1.3" />
<line x1="445.50" y1="584.60" x2="455.50" y2="584.60" stroke="#1c1c1c" stroke-width="1.3" />
<line x1="445.50" y1="617.90" x2="455.50" y2="617.90" stroke="#1c1c1c" stroke-width="1.3" />
<line x1="439.90" y1="601.50" x2="461.10" y2="601.50" stroke="#1c1c1c" stroke-width="1.4" />
<circle cx="450.40" cy="553.50" r="2.05" fill="#4a2868" stroke="#331646" stroke-width="0.7"/>
<circle cx="450.40" cy="606.50" r="2.05" fill="#4a2868" stroke="#331646" stroke-width="0.7"/>
<circle cx="450.40" cy="618.80" r="2.05" fill="#4a2868" stroke="#331646" stroke-width="0.7"/>
<circle cx="450.40" cy="627.70" r="2.05" fill="#4a2868" stroke="#331646" stroke-width="0.7"/>
<line x1="482.70" y1="608.80" x2="482.70" y2="621.70" stroke="#1c1c1c" stroke-width="1.3" />
<line x1="477.70" y1="608.80" x2="487.70" y2="608.80" stroke="#1c1c1c" stroke-width="1.3" />
<line x1="477.70" y1="621.70" x2="487.70" y2="621.70" stroke="#1c1c1c" stroke-width="1.3" />
<line x1="472.10" y1="615.40" x2="493.30" y2="615.40" stroke="#1c1c1c" stroke-width="1.4" />
<circle cx="482.70" cy="600.00" r="2.05" fill="#4a2868" stroke="#331646" stroke-width="0.7"/>
<circle cx="482.70" cy="612.70" r="2.05" fill="#4a2868" stroke="#331646" stroke-width="0.7"/>
<circle cx="482.70" cy="618.80" r="2.05" fill="#4a2868" stroke="#331646" stroke-width="0.7"/>
<circle cx="482.70" cy="630.00" r="2.05" fill="#4a2868" stroke="#331646" stroke-width="0.7"/>
<text transform="translate(294.41,620.24) rotate(-90) scale(0.701,1)" style="font-size:13.26px" fill="#1c1c1c" stroke="#1c1c1c" stroke-width="0.5">Fold change</text>
<line x1="190.60" y1="762.00" x2="190.60" y2="888.00" stroke="#1c1c1c" stroke-width="1.4" />
<line x1="186.30" y1="887.30" x2="190.60" y2="887.30" stroke="#1c1c1c" stroke-width="1.1" />
<line x1="188.60" y1="879.23" x2="190.60" y2="879.23" stroke="#1c1c1c" stroke-width="1.1" />
<line x1="188.60" y1="871.17" x2="190.60" y2="871.17" stroke="#1c1c1c" stroke-width="1.1" />
<line x1="188.60" y1="863.10" x2="190.60" y2="863.10" stroke="#1c1c1c" stroke-width="1.1" />
<line x1="188.60" y1="855.03" x2="190.60" y2="855.03" stroke="#1c1c1c" stroke-width="1.1" />
<line x1="186.30" y1="846.97" x2="190.60" y2="846.97" stroke="#1c1c1c" stroke-width="1.1" />
<line x1="188.60" y1="838.90" x2="190.60" y2="838.90" stroke="#1c1c1c" stroke-width="1.1" />
<line x1="188.60" y1="830.83" x2="190.60" y2="830.83" stroke="#1c1c1c" stroke-width="1.1" />
<line x1="188.60" y1="822.77" x2="190.60" y2="822.77" stroke="#1c1c1c" stroke-width="1.1" />
<line x1="188.60" y1="814.70" x2="190.60" y2="814.70" stroke="#1c1c1c" stroke-width="1.1" />
<line x1="186.30" y1="806.63" x2="190.60" y2="806.63" stroke="#1c1c1c" stroke-width="1.1" />
<line x1="188.60" y1="798.57" x2="190.60" y2="798.57" stroke="#1c1c1c" stroke-width="1.1" />
<line x1="188.60" y1="790.50" x2="190.60" y2="790.50" stroke="#1c1c1c" stroke-width="1.1" />
<line x1="188.60" y1="782.43" x2="190.60" y2="782.43" stroke="#1c1c1c" stroke-width="1.1" />
<line x1="188.60" y1="774.37" x2="190.60" y2="774.37" stroke="#1c1c1c" stroke-width="1.1" />
<line x1="186.30" y1="766.30" x2="190.60" y2="766.30" stroke="#1c1c1c" stroke-width="1.1" />
<g transform="translate(182.40,891.35) scale(1.150,1)" fill="#1c1c1c" stroke="#1c1c1c" stroke-width="0.3"><text x="-13.48 -7.56 -5.30" y="0" style="font-size:10.20px">0.0</text></g>
<g transform="translate(182.40,851.02) scale(1.150,1)" fill="#1c1c1c" stroke="#1c1c1c" stroke-width="0.3"><text x="-13.43 -7.51 -5.25" y="0" style="font-size:10.20px">0.5</text></g>
<g transform="translate(182.40,810.68) scale(1.150,1)" fill="#1c1c1c" stroke="#1c1c1c" stroke-width="0.3"><text x="-7.56 -5.30" y="0" style="font-size:10.20px">.0</text><path d="M -10.32 0.00 L -9.40 0.00 L -9.40 -7.17 L -10.06 -7.17 Q -10.42 -6.12 -12.25 -5.86 L -12.25 -5.10 Q -10.83 -5.20 -10.32 -5.76 Z"/></g>
<g transform="translate(182.40,770.35) scale(1.150,1)" fill="#1c1c1c" stroke="#1c1c1c" stroke-width="0.3"><text x="-7.51 -5.25" y="0" style="font-size:10.20px">.5</text><path d="M -10.26 0.00 L -9.35 0.00 L -9.35 -7.17 L -10.01 -7.17 Q -10.37 -6.12 -12.20 -5.86 L -12.20 -5.10 Q -10.77 -5.20 -10.26 -5.76 Z"/></g>
<line x1="190.60" y1="887.30" x2="373.80" y2="887.30" stroke="#1c1c1c" stroke-width="1.4" />
<line x1="191.60" y1="806.50" x2="370.80" y2="806.50" stroke="#222" stroke-width="1.1" stroke-dasharray="1.3 1.8"/>
<line x1="217.60" y1="887.30" x2="217.60" y2="891.60" stroke="#1c1c1c" stroke-width="1.1" />
<line x1="250.10" y1="887.30" x2="250.10" y2="891.60" stroke="#1c1c1c" stroke-width="1.1" />
<line x1="281.90" y1="887.30" x2="281.90" y2="891.60" stroke="#1c1c1c" stroke-width="1.1" />
<line x1="314.30" y1="887.30" x2="314.30" y2="891.60" stroke="#1c1c1c" stroke-width="1.1" />
<line x1="346.20" y1="887.30" x2="346.20" y2="891.60" stroke="#1c1c1c" stroke-width="1.1" />
<g transform="translate(217.60,906.00) scale(1.150,1)" fill="#1c1c1c" stroke="#1c1c1c" stroke-width="0.3"><text x="-4.37 -2.11 3.80" y="0" style="font-size:10.20px">.88</text><path d="M -7.12 0.00 L -6.20 0.00 L -6.20 -7.17 L -6.86 -7.17 Q -7.22 -6.12 -9.06 -5.86 L -9.06 -5.10 Q -7.63 -5.20 -7.12 -5.76 Z"/></g>
<g transform="translate(250.10,906.00) scale(1.150,1)" fill="#1c1c1c" stroke="#1c1c1c" stroke-width="0.3"><text x="-9.87 -3.96 -1.70 4.21" y="0" style="font-size:10.20px">3.75</text></g>
<g transform="translate(281.90,906.00) scale(1.150,1)" fill="#1c1c1c" stroke="#1c1c1c" stroke-width="0.3"><text x="-6.01 -2.01 0.25" y="0" style="font-size:10.20px">7.5</text></g>
<g transform="translate(314.30,906.00) scale(1.150,1)" fill="#1c1c1c" stroke="#1c1c1c" stroke-width="0.3"><text x="-0.28" y="0" style="font-size:10.20px">5</text><path d="M -3.03 0.00 L -2.12 0.00 L -2.12 -7.17 L -2.78 -7.17 Q -3.14 -6.12 -4.97 -5.86 L -4.97 -5.10 Q -3.54 -5.20 -3.03 -5.76 Z"/></g>
<g transform="translate(346.20,906.00) scale(1.150,1)" fill="#1c1c1c" stroke="#1c1c1c" stroke-width="0.3"><text x="-5.81 0.10" y="0" style="font-size:10.20px">30</text></g>
<line x1="217.60" y1="814.80" x2="217.60" y2="819.80" stroke="#1c1c1c" stroke-width="1.3" />
<line x1="212.90" y1="814.80" x2="222.30" y2="814.80" stroke="#1c1c1c" stroke-width="1.3" />
<line x1="212.90" y1="819.80" x2="222.30" y2="819.80" stroke="#1c1c1c" stroke-width="1.3" />
<line x1="207.10" y1="817.50" x2="228.10" y2="817.50" stroke="#1c1c1c" stroke-width="1.4" />
<circle cx="214.90" cy="810.20" r="2.15" fill="#4a2868" stroke="#331646" stroke-width="0.7"/>
<circle cx="220.80" cy="810.80" r="2.15" fill="#4a2868" stroke="#331646" stroke-width="0.7"/>
<circle cx="209.40" cy="818.80" r="2.15" fill="#4a2868" stroke="#331646" stroke-width="0.7"/>
<circle cx="220.50" cy="820.30" r="2.15" fill="#4a2868" stroke="#331646" stroke-width="0.7"/>
<circle cx="226.60" cy="819.70" r="2.15" fill="#4a2868" stroke="#331646" stroke-width="0.7"/>
<circle cx="209.70" cy="824.30" r="2.15" fill="#4a2868" stroke="#331646" stroke-width="0.7"/>
<line x1="250.10" y1="812.60" x2="250.10" y2="818.30" stroke="#1c1c1c" stroke-width="1.3" />
<line x1="245.40" y1="812.60" x2="254.80" y2="812.60" stroke="#1c1c1c" stroke-width="1.3" />
<line x1="245.40" y1="818.30" x2="254.80" y2="818.30" stroke="#1c1c1c" stroke-width="1.3" />
<line x1="239.70" y1="815.60" x2="260.50" y2="815.60" stroke="#1c1c1c" stroke-width="1.4" />
<circle cx="250.10" cy="803.40" r="2.15" fill="#4a2868" stroke="#331646" stroke-width="0.7"/>
<circle cx="250.10" cy="808.60" r="2.15" fill="#4a2868" stroke="#331646" stroke-width="0.7"/>
<circle cx="241.40" cy="817.20" r="2.15" fill="#4a2868" stroke="#331646" stroke-width="0.7"/>
<circle cx="258.60" cy="817.20" r="2.15" fill="#4a2868" stroke="#331646" stroke-width="0.7"/>
<circle cx="245.40" cy="823.70" r="2.15" fill="#4a2868" stroke="#331646" stroke-width="0.7"/>
<circle cx="254.00" cy="823.10" r="2.15" fill="#4a2868" stroke="#331646" stroke-width="0.7"/>
<line x1="281.90" y1="810.50" x2="281.90" y2="819.40" stroke="#1c1c1c" stroke-width="1.3" />
<line x1="277.20" y1="810.50" x2="286.60" y2="810.50" stroke="#1c1c1c" stroke-width="1.3" />
<line x1="277.20" y1="819.40" x2="286.60" y2="819.40" stroke="#1c1c1c" stroke-width="1.3" />
<line x1="271.30" y1="814.80" x2="292.50" y2="814.80" stroke="#1c1c1c" stroke-width="1.4" />
<circle cx="281.90" cy="793.80" r="2.15" fill="#4a2868" stroke="#331646" stroke-width="0.7"/>
<circle cx="290.30" cy="808.90" r="2.15" fill="#4a2868" stroke="#331646" stroke-width="0.7"/>
<circle cx="273.40" cy="812.30" r="2.15" fill="#4a2868" stroke="#331646" stroke-width="0.7"/>
<circle cx="281.50" cy="813.30" r="2.15" fill="#4a2868" stroke="#331646" stroke-width="0.7"/>
<circle cx="281.70" cy="822.50" r="2.15" fill="#4a2868" stroke="#331646" stroke-width="0.7"/>
<circle cx="273.70" cy="826.80" r="2.15" fill="#4a2868" stroke="#331646" stroke-width="0.7"/>
<circle cx="290.60" cy="825.80" r="2.15" fill="#4a2868" stroke="#331646" stroke-width="0.7"/>
<line x1="314.30" y1="812.80" x2="314.30" y2="821.70" stroke="#1c1c1c" stroke-width="1.3" />
<line x1="309.60" y1="812.80" x2="319.00" y2="812.80" stroke="#1c1c1c" stroke-width="1.3" />
<line x1="309.60" y1="821.70" x2="319.00" y2="821.70" stroke="#1c1c1c" stroke-width="1.3" />
<line x1="303.80" y1="817.40" x2="324.80" y2="817.40" stroke="#1c1c1c" stroke-width="1.4" />
<circle cx="314.30" cy="796.00" r="2.15" fill="#4a2868" stroke="#331646" stroke-width="0.7"/>
<circle cx="310.00" cy="813.10" r="2.15" fill="#4a2868" stroke="#331646" stroke-width="0.7"/>
<circle cx="318.30" cy="812.50" r="2.15" fill="#4a2868" stroke="#331646" stroke-width="0.7"/>
<circle cx="305.70" cy="820.50" r="2.15" fill="#4a2868" stroke="#331646" stroke-width="0.7"/>
<circle cx="314.30" cy="822.60" r="2.15" fill="#4a2868" stroke="#331646" stroke-width="0.7"/>
<circle cx="322.60" cy="822.30" r="2.15" fill="#4a2868" stroke="#331646" stroke-width="0.7"/>
<circle cx="314.30" cy="834.60" r="2.15" fill="#4a2868" stroke="#331646" stroke-width="0.7"/>
<line x1="346.20" y1="815.50" x2="346.20" y2="821.10" stroke="#1c1c1c" stroke-width="1.3" />
<line x1="341.60" y1="815.50" x2="350.80" y2="815.50" stroke="#1c1c1c" stroke-width="1.3" />
<line x1="341.60" y1="821.10" x2="350.80" y2="821.10" stroke="#1c1c1c" stroke-width="1.3" />
<line x1="336.00" y1="818.30" x2="356.40" y2="818.30" stroke="#1c1c1c" stroke-width="1.4" />
<circle cx="346.10" cy="806.60" r="2.15" fill="#4a2868" stroke="#331646" stroke-width="0.7"/>
<circle cx="338.30" cy="812.50" r="2.15" fill="#4a2868" stroke="#331646" stroke-width="0.7"/>
<circle cx="354.90" cy="815.80" r="2.15" fill="#4a2868" stroke="#331646" stroke-width="0.7"/>
<circle cx="338.00" cy="819.50" r="2.15" fill="#4a2868" stroke="#331646" stroke-width="0.7"/>
<circle cx="346.00" cy="822.30" r="2.15" fill="#4a2868" stroke="#331646" stroke-width="0.7"/>
<circle cx="354.60" cy="823.50" r="2.15" fill="#4a2868" stroke="#331646" stroke-width="0.7"/>
<circle cx="338.30" cy="826.30" r="2.15" fill="#4a2868" stroke="#331646" stroke-width="0.7"/>
<text transform="translate(157.71,849.64) rotate(-90) scale(0.698,1)" style="font-size:13.26px" fill="#1c1c1c" stroke="#1c1c1c" stroke-width="0.5">Fold change</text>
<rect x="0.5" y="0.5" width="519" height="938" fill="none" stroke="#1a1a1a" stroke-width="1"/>
</svg>
</body></html>
